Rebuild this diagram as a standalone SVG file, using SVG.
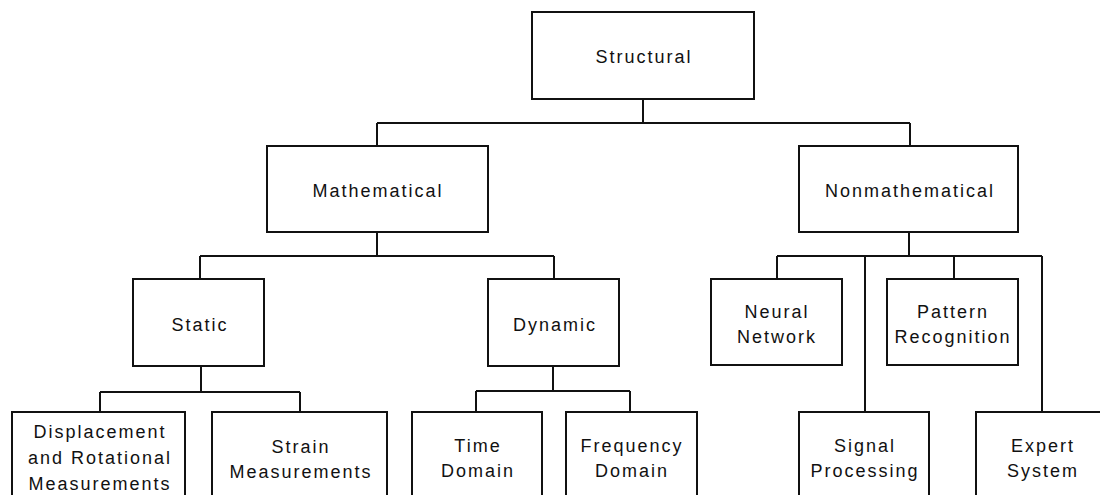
<svg xmlns="http://www.w3.org/2000/svg" width="1100" height="495" viewBox="0 0 1100 495">
<style>
.box{fill:#fff;stroke:#111;stroke-width:2}
.ln{fill:none;stroke:#111;stroke-width:2}
text{font-family:"Liberation Sans",Arial,sans-serif;font-size:18px;letter-spacing:2px;fill:#111;text-anchor:middle}
</style>
<rect width="1100" height="495" fill="#fff"/>
<g id="connectors">
<path class="ln" d="M643 99V123M377 123H910M377 123V146M910 123V146"/>
<path class="ln" d="M377 232V256M200 256H554M200 256V279M554 256V279"/>
<path class="ln" d="M201 366V392M100 392H300M100 392V412M300 392V412"/>
<path class="ln" d="M553 366V391M476 391H630M476 391V412M630 391V412"/>
<path class="ln" d="M909 232V256M777 256H1042M777 256V279M954 256V279M865 256V412M1042 256V412"/>
</g>
<g id="structural"><rect class="box" x="532" y="12" width="222" height="87"/><text x="644" y="63">Structural</text></g>
<g id="mathematical"><rect class="box" x="267" y="146" width="221" height="86"/><text x="378" y="197">Mathematical</text></g>
<g id="nonmathematical"><rect class="box" x="799" y="146" width="219" height="86"/><text x="910" y="197">Nonmathematical</text></g>
<g id="static"><rect class="box" x="133" y="279" width="131" height="87"/><text x="200" y="331">Static</text></g>
<g id="dynamic"><rect class="box" x="488" y="279" width="131" height="87"/><text x="555" y="331">Dynamic</text></g>
<g id="neural"><rect class="box" x="711" y="279" width="131" height="86"/><text x="777" y="318">Neural</text><text x="777" y="343">Network</text></g>
<g id="pattern"><rect class="box" x="887" y="279" width="131" height="86"/><text x="953" y="318">Pattern</text><text x="953" y="343">Recognition</text></g>
<g id="displacement"><rect class="box" x="12" y="412" width="173" height="95"/><text x="100" y="438">Displacement</text><text x="100" y="464">and Rotational</text><text x="100" y="490">Measurements</text></g>
<g id="strain"><rect class="box" x="212" y="412" width="175" height="95"/><text x="301" y="453">Strain</text><text x="301" y="478">Measurements</text></g>
<g id="time"><rect class="box" x="412" y="412" width="130" height="95"/><text x="478" y="452">Time</text><text x="478" y="477">Domain</text></g>
<g id="frequency"><rect class="box" x="566" y="412" width="131" height="95"/><text x="632" y="452">Frequency</text><text x="632" y="477">Domain</text></g>
<g id="signal"><rect class="box" x="799" y="412" width="130" height="95"/><text x="865" y="452">Signal</text><text x="865" y="477">Processing</text></g>
<g id="expert"><rect class="box" x="976" y="412" width="132" height="95"/><text x="1043" y="452">Expert</text><text x="1043" y="477">System</text></g>
</svg>
